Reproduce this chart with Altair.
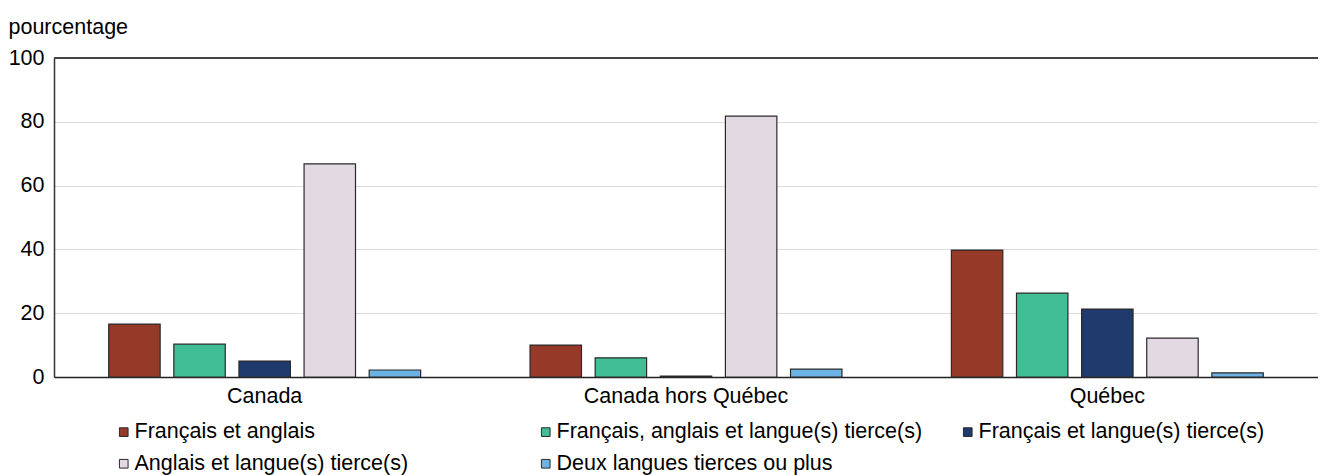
import altair as alt
import pandas as pd

regions = ["Canada", "Canada hors Québec", "Québec"]
categories = [
    "Français et anglais",
    "Français, anglais et langue(s) tierce(s)",
    "Français et langue(s) tierce(s)",
    "Anglais et langue(s) tierce(s)",
    "Deux langues tierces ou plus",
]
colors = ["#953A29", "#41BE95", "#1F3A6C", "#E2D9E2", "#6CB3E3"]

fr_en = [16.6, 10.0, 39.8]
fr_en_tierce = [10.3, 6.0, 26.3]
fr_tierce = [5.0, 0.3, 21.3]
en_tierce = [66.8, 81.8, 12.2]
deux_tierces = [2.2, 2.5, 1.3]

series = [fr_en, fr_en_tierce, fr_tierce, en_tierce, deux_tierces]
rows = []
for cat, vals in zip(categories, series):
    for reg, v in zip(regions, vals):
        rows.append({"region": reg, "cat": cat, "value": v})
df = pd.DataFrame(rows)

FONT = "Liberation Sans"
FS = 21.5

bars = alt.Chart(df).mark_bar(stroke="#2a2a2a", strokeWidth=1.2).encode(
    x=alt.X("region:N", sort=regions,
            scale=alt.Scale(paddingInner=0, paddingOuter=0),
            axis=alt.Axis(title=None, labelAngle=0, ticks=False, domain=True,
                          domainColor="#222", domainWidth=1.5, labelLimit=1000,
                          labelFontSize=FS, labelColor="#000", labelPadding=8,
                          labelFont=FONT)),
    xOffset=alt.XOffset("cat:N", sort=categories,
                        scale=alt.Scale(paddingInner=0.21, paddingOuter=0.84)),
    y=alt.Y("value:Q", scale=alt.Scale(domain=[0, 100]),
            axis=alt.Axis(values=[0, 20, 40, 60, 80, 100], title="pourcentage",
                          titleAngle=0, titleX=-46, titleY=-25, titleAlign="left",
                          titleBaseline="alphabetic", titleFontSize=FS,
                          titleFontWeight="normal", titleFont=FONT, titleColor="#000",
                          ticks=False, domain=True, domainColor="#333", domainWidth=1.5,
                          grid=True, gridColor="#dcdcdc", gridWidth=1,
                          labelFontSize=FS, labelFont=FONT, labelColor="#000",
                          labelPadding=10)),
    color=alt.Color("cat:N", sort=categories,
                    scale=alt.Scale(domain=categories, range=colors),
                    legend=alt.Legend(title=None, orient="none", legendX=59, legendY=363,
                                      direction="horizontal",
                                      columns=3, gridAlign="all", columnPadding=34,
                                      rowPadding=9, symbolType="square", symbolSize=75,
                                      symbolStrokeColor="#2a2a2a", symbolStrokeWidth=1,
                                      labelFontSize=FS, labelFont=FONT, labelColor="#000",
                                      labelLimit=1000, labelOffset=0)),
)

top_rule = alt.Chart(df).mark_rule(color="#444", strokeWidth=2).encode(
    y=alt.datum(100)
)

chart = alt.layer(bars, top_rule).properties(
    width=1264, height=319,
    autosize=alt.AutoSizeParams(type="none"),
    padding={"left": 46, "top": 50, "right": 0, "bottom": 98},
).configure_view(stroke=None).configure(font=FONT)

chart.save("out.html", embed_options={"renderer": "svg", "actions": False})
